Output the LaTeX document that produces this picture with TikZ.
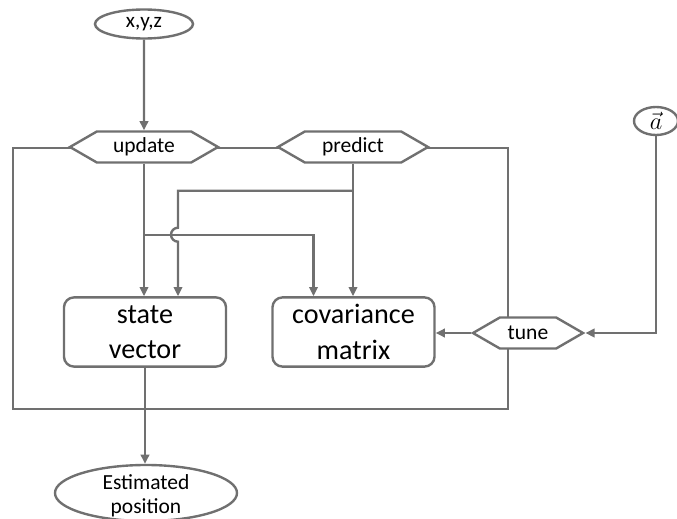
\documentclass[tikz,border=0pt]{standalone}
\usepackage{fontspec}
\setmainfont{Carlito}
\usetikzlibrary{calc,shapes.geometric,shapes.symbols,arrows.meta}
\definecolor{flowgray}{RGB}{112,112,112}

\tikzset{
	flow/.style={draw=flowgray, line width=1.7pt},
	arr/.style={flow, -{Triangle[length=6.5pt,width=6pt]}},
	hexa/.style={signal, signal to=west and east, signal pointer angle=60, draw=flowgray, line width=1.7pt, fill=white, inner sep=0pt, minimum height=0.775cm, font=\fontsize{15.3}{18}\selectfont},
	blob/.style={ellipse, draw=flowgray, line width=1.7pt, fill=white, inner sep=0pt},
	store/.style={rectangle, rounded corners=0.25cm, draw=flowgray, line width=1.7pt, fill=white, minimum width=4.05cm, minimum height=1.73cm, inner sep=0pt, align=center, font=\fontsize{20}{25}\selectfont}
}

\begin{document}
\begin{tikzpicture}[x=0.025cm, y=-0.025cm]
	%%%%% START %%%%%
	\useasboundingbox (0,0) rectangle (677,519);
	
	% filter frame
	\draw[flow] (13,148) rectangle (508,409);
	
	\node[hexa, minimum width=3.7cm] (upd) at (144,147) {update};
	\node[hexa, minimum width=3.75cm] (pred) at (353,147) {predict};
	\node[hexa, minimum width=2.75cm] (tune) at (528,333) {tune};
	
	\node[blob, minimum width=2.45cm, minimum height=0.725cm, font=\fontsize{15}{18}\selectfont] (xyz) at (144,24) {x,y,z};
	\node[blob, minimum width=1.1cm, minimum height=0.7cm, font=\fontsize{16}{18}\selectfont] (acc) at (656,121) {$\vec{a}$};
	
	\node[store] (sv) at (145,332) {state\\vector};
	\node[store] (cov) at (353.5,332) {covariance\\matrix};
	
	\node[blob, minimum width=4.55cm, minimum height=1.4cm,
		label={[align=center, font=\fontsize{15.3}{16.5}\selectfont, yshift=-2pt]center:Estimated\\position}] (est) at (146,493) {};
	
	% branch points
	\coordinate (pj) at ($(pred.south)+(0,27)$);
	\coordinate (uj) at ($(upd.south)+(0,71)$);
	\coordinate (svin) at ($(sv.north)+(33,0)$);
	\coordinate (covin) at ($(cov.north)+(-40,0)$);
	
	\draw[arr] (xyz) -- (upd);
	\draw[arr] (upd.south) -- (upd.south |- sv.north);
	\draw[arr] (pred.south) -- (pred.south |- cov.north);
	\draw[arr] (pj) -- (svin |- pj) -- ($(svin |- uj)+(0,-7)$) arc[start angle=270, end angle=90, radius=7] -- (svin);
	\draw[arr] (uj) -| (covin);
	\draw[arr] (sv.south) -- (sv.south |- est.north);
	\draw[arr] (acc.south) |- (tune.east);
	\draw[arr] (tune.west) -- (tune.west -| cov.east);
	
	%%%%% END %%%%%
\end{tikzpicture}
\end{document}
